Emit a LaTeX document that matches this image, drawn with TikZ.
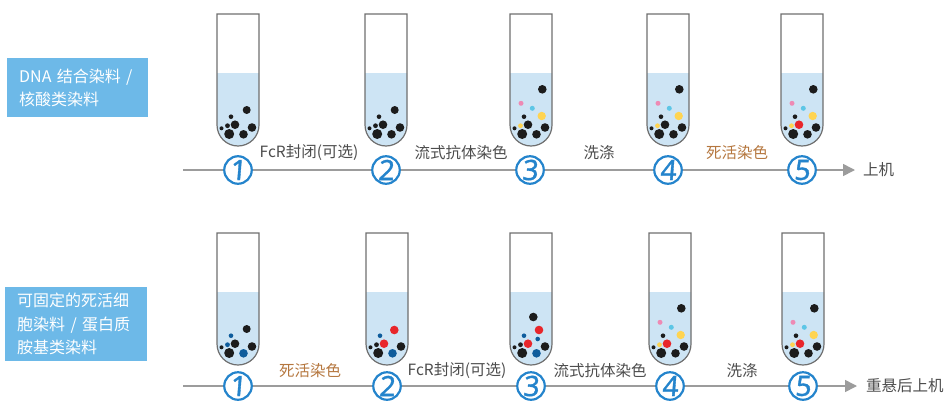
\documentclass[tikz,border=0pt]{standalone}
\usepackage{fontspec}
\setmainfont{Noto Sans CJK SC}
\newfontfamily\numfont[FakeBold=1.2,FakeSlant=0.08]{Noto Sans}
\usetikzlibrary{arrows.meta}

\definecolor{boxblue}{HTML}{6DB9E8}
\definecolor{liquid}{HTML}{CDE4F4}
\definecolor{tubegray}{HTML}{6E6E6E}
\definecolor{axisgray}{HTML}{9C9C9C}
\definecolor{numblue}{HTML}{2484CC}
\definecolor{labelgray}{HTML}{4D4D4D}
\definecolor{brown}{HTML}{B5773F}
\definecolor{ink}{HTML}{1C1C1C}
\definecolor{pinkb}{HTML}{EE8AB4}
\definecolor{cyanb}{HTML}{5DC6E6}
\definecolor{yellowb}{HTML}{FFD451}
\definecolor{redb}{HTML}{E8262B}
\definecolor{blueb}{HTML}{0E5C9C}

\tikzset{
  x=1pt, y=-1pt,
  dyebox/.style={fill=boxblue, text=white, anchor=north west, align=left,
    inner xsep=12pt, inner ysep=0pt,
    font=\fontsize{16}{23.5}\selectfont},
  stepnum/.style={circle, draw=numblue, line width=2.2pt, fill=white,
    minimum size=27.5pt, inner sep=0pt, outer sep=0pt, text=numblue,
    font=\numfont\fontsize{28}{28}\selectfont},
  steplabel/.style={text=labelgray, inner sep=0pt,
    font=\fontsize{15.5}{15.5}\selectfont},
  deadlabel/.style={steplabel, text=brown},
  endlabel/.style={steplabel, anchor=west},
  axisline/.style={draw=axisgray, line width=1.6pt,
    -{Triangle[length=12pt,width=12pt]}},
  tubeline/.style={draw=tubegray, line width=1.2pt},
}

% test tube: centre x, top y, bottom y, list of beads dx/dy/r/colour
\newcommand\tube[4]{%
  \fill[liquid] (#1-21,#2+59) -- (#1-21,#3-21)
    arc[start angle=180,end angle=0,radius=21] -- (#1+21,#2+59) -- cycle;
  \foreach \dx/\dy/\rr/\cc in {#4}
    \fill[\cc] (#1+\dx,#3+\dy) circle[radius=\rr];
  \draw[tubeline] (#1-21,#2) -- (#1-21,#3-21)
    arc[start angle=180,end angle=0,radius=21] -- (#1+21,#2) -- cycle;
}

\begin{document}
\begin{tikzpicture}
\useasboundingbox (0,0) rectangle (947,402);

% ---------- row 1: DNA binding dyes ----------
\node[dyebox, minimum width=141pt, minimum height=59pt, text width=117pt]
  (dnabox) at (7,58) {DNA 结合染料 /\\核酸类染料};

\tube{238}{14}{146}{-16.5/-17.7/2/ink, -8.8/-12/5/ink, 14/-18.5/4.3/ink,
  5.5/-11.7/4.3/ink, -3/-21.3/4.3/ink, -10.5/-20.3/2.4/ink,
  -7/-29.3/2.3/ink, 8.7/-36/4/ink}
\tube{386}{14}{146}{-16.5/-17.7/2/ink, -8.8/-12/5/ink, 14/-18.5/4.3/ink,
  5.5/-11.7/4.3/ink, -3/-21.3/4.3/ink, -10.5/-20.3/2.4/ink,
  -7/-29.3/2.3/ink, 8.7/-36/4/ink}
\tube{531}{14}{146}{-16.5/-17.7/2/ink, -8.8/-12/5/ink, 14/-18.5/4.3/ink,
  5.5/-11.7/4.3/ink, -3/-21.3/4.3/ink, -10.5/-20.3/2.4/yellowb,
  -7/-29.3/2.3/ink, 11.3/-56.7/4.3/ink, -10/-42.7/2.5/pinkb,
  1.3/-37.7/2.5/cyanb, 10.7/-30/4.2/yellowb}
\tube{668}{14}{146}{-16.5/-17.7/2/ink, -8.8/-12/5/ink, 14/-18.5/4.3/ink,
  5.5/-11.7/4.3/ink, -3/-21.3/4.3/ink, -10.5/-20.3/2.4/yellowb,
  -7/-29.3/2.3/ink, 11.3/-56.7/4.3/ink, -10/-42.7/2.5/pinkb,
  1.3/-37.7/2.5/cyanb, 10.7/-30/4.2/yellowb}
\tube{802}{14}{146}{-16.5/-17.7/2/ink, -8.8/-12/5/ink, 14/-18.5/4.3/ink,
  5.5/-11.7/4.3/ink, -3/-21.3/4.3/redb, -10.5/-20.3/2.4/yellowb,
  -7/-29.3/2.3/ink, 11.3/-56.7/4.3/ink, -10/-42.7/2.5/pinkb,
  1.3/-37.7/2.5/cyanb, 10.7/-30/4.2/yellowb}

\coordinate (axisAstart) at (183,170);
\coordinate (axisAend) at (855,170);
\draw[axisline] (axisAstart) -- (axisAend);

\node[stepnum] (a1) at (238,170) {1};
\node[stepnum] (a2) at (386,170) {2};
\node[stepnum] (a3) at (530,170) {3};
\node[stepnum] (a4) at (668,170) {4};
\node[stepnum] (a5) at (802,170) {5};

\node[steplabel] (la1) at (309,153) {FcR封闭(可选)};
\node[steplabel] (la2) at (461,153) {流式抗体染色};
\node[steplabel] (la3) at (599,153) {洗涤};
\node[deadlabel] (la4) at (737,153) {死活染色};
\node[endlabel]  (la5) at (863,170) {上机};

% ---------- row 2: fixable viability dyes ----------
\node[dyebox, minimum width=142pt, minimum height=74pt, text width=118pt]
  (fixbox) at (5,287) {可固定的死活细\\胞染料 / 蛋白质\\胺基类染料};

\tube{238}{233}{365}{-16.5/-17.7/2/ink, -8.8/-12/5/ink, 14/-18.5/4.3/ink,
  5.5/-11.7/4.3/blueb, -3/-21.3/4.3/ink, -10.5/-20.3/2.4/blueb,
  -7/-29.3/2.3/blueb, 8.7/-36/4/ink}
\tube{387}{233}{365}{-16.5/-17.7/2/ink, -8.8/-12/5/ink, 14/-18.5/4.3/ink,
  5.5/-11.7/4.3/blueb, -3/-21.3/4.3/redb, -10.5/-20.3/2.4/ink,
  -7/-29.3/2.3/blueb, 7.3/-35/4.3/redb}
\tube{531}{233}{365}{-16.5/-17.7/2/ink, -8.8/-12/5/ink, 14/-18.5/4.3/ink,
  5.5/-11.7/4.3/blueb, -3/-21.3/4.3/redb, -10.5/-20.3/2.4/ink,
  -7/-29.3/2.3/blueb, 8/-35/4.3/redb, 2.3/-48/4.3/ink, 6.7/-26/2.3/blueb}
\tube{670}{233}{365}{-16.5/-17.7/2/ink, -8.8/-12/5/ink, 14/-18.5/4.3/ink,
  5.5/-11.7/4.3/ink, -3/-21.3/4.3/redb, -10.5/-20.3/2.4/yellowb,
  -7/-29.3/2.3/ink, 11.3/-56.7/4.3/ink, -10/-42.7/2.5/pinkb,
  1.3/-37.7/2.5/cyanb, 10.7/-30/4.2/yellowb}
\tube{803}{233}{365}{-16.5/-17.7/2/ink, -8.8/-12/5/ink, 14/-18.5/4.3/ink,
  5.5/-11.7/4.3/ink, -3/-21.3/4.3/redb, -10.5/-20.3/2.4/yellowb,
  -7/-29.3/2.3/ink, 11.3/-56.7/4.3/ink, -10/-42.7/2.5/pinkb,
  1.3/-37.7/2.5/cyanb, 10.7/-30/4.2/yellowb}

\coordinate (axisBstart) at (183,386);
\coordinate (axisBend) at (857,386);
\draw[axisline] (axisBstart) -- (axisBend);

\node[stepnum] (b1) at (238,386) {1};
\node[stepnum] (b2) at (387,386) {2};
\node[stepnum] (b3) at (531,386) {3};
\node[stepnum] (b4) at (670,386) {4};
\node[stepnum] (b5) at (803,386) {5};

\node[deadlabel] (lb1) at (310,371) {死活染色};
\node[steplabel] (lb2) at (457,371) {FcR封闭(可选)};
\node[steplabel] (lb3) at (600,371) {流式抗体染色};
\node[steplabel] (lb4) at (742,371) {洗涤};
\node[endlabel]  (lb5) at (866,386) {重悬后上机};
\end{tikzpicture}
\end{document}
